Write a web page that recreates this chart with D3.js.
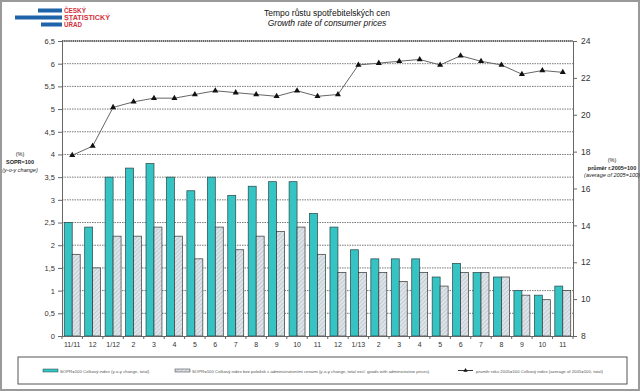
<!DOCTYPE html>
<html>
<head>
<meta charset="utf-8">
<script src="https://cdn.jsdelivr.net/npm/d3@7"></script>
<style>
  body { margin: 0; background: #fff; }
  svg { display: block; font-family: "Liberation Sans", Arial, sans-serif; }
</style>
</head>
<body>
<svg id="chart" width="640" height="391"></svg>
<script>
let width = 640;
let height = 391;

// months Nov 2011 - Nov 2013
let categories = ["11/11", "12", "1/12", "2", "3", "4", "5", "6", "7", "8", "9", "10", "11", "12",
    "1/13", "2", "3", "4", "5", "6", "7", "8", "9", "10", "11"];
// y-o-y change, total (left axis)
let totalYoY = [2.5, 2.4, 3.5, 3.7, 3.8, 3.5, 3.2, 3.5, 3.1, 3.3, 3.4, 3.4, 2.7, 2.4,
    1.9, 1.7, 1.7, 1.7, 1.3, 1.6, 1.4, 1.3, 1.0, 0.9, 1.1];
// y-o-y change, total excl. goods with administrative prices (left axis)
let exclAdminYoY = [1.8, 1.5, 2.2, 2.2, 2.4, 2.2, 1.7, 2.4, 1.9, 2.2, 2.3, 2.4, 1.8, 1.4,
    1.4, 1.4, 1.2, 1.4, 1.1, 1.4, 1.4, 1.3, 0.9, 0.8, 1.0];
// average of 2005=100 (right axis)
let avg2005 = [17.8, 18.3, 20.4, 20.7, 20.9, 20.9, 21.1, 21.3, 21.2, 21.1, 21.0, 21.3, 21.0, 21.1,
    22.7, 22.8, 22.9, 23.0, 22.7, 23.2, 22.9, 22.7, 22.2, 22.4, 22.3];
let leftTicks = [0, 0.5, 1, 1.5, 2, 2.5, 3, 3.5, 4, 4.5, 5, 5.5, 6, 6.5];
let rightTicks = [8, 10, 12, 14, 16, 18, 20, 22, 24];

let legendLabels = [
    "SOPR=100 Celkový index (y-o-y change, total)",
    "SOPR=100 Celkový index bez položek s administrativními cenami (y-o-y change, total excl. goods with administrative prices)",
    "průměr roku 2005=100 Celkový index (average of 2005=100, total)"
];

let plotLeft = 62, plotRight = 573, plotTop = 41, plotBottom = 336;
let tealColor = "#35c3c3";

let svg = d3.select("#chart");
let fmt = v => String(v).replace(".", ",");

// hatch pattern for the second bar series
let defs = svg.append("defs");
let pat = defs.append("pattern")
    .attr("id", "hatch")
    .attr("patternUnits", "userSpaceOnUse")
    .attr("width", 3).attr("height", 3)
    .attr("patternTransform", "rotate(45)");
pat.append("rect").attr("width", 3).attr("height", 3).attr("fill", "#dde4ea");
pat.append("line").attr("x1", 0).attr("y1", 0).attr("x2", 0).attr("y2", 3)
    .attr("stroke", "#9aa6b0").attr("stroke-width", 0.8);

// outer frame
svg.append("rect")
    .attr("x", 1).attr("y", 1).attr("width", width - 2).attr("height", height - 2)
    .attr("fill", "white").attr("stroke", "#9a9a9a").attr("stroke-width", 2);

// logo
let logo = svg.append("g");
[[38, 8.5, 24], [15, 15.5, 47], [41, 22.5, 21]].forEach(function (b) {
    logo.append("rect").attr("x", b[0]).attr("y", b[1]).attr("width", b[2]).attr("height", 4)
        .attr("fill", "#1f63a8");
});
["ČESKÝ", "STATISTICKÝ", "ÚŘAD"].forEach(function (t, i) {
    logo.append("text").attr("x", 64).attr("y", 12.6 + i * 7.2)
        .attr("font-size", 6.3).attr("font-weight", "bold").attr("fill", "#d3303c")
        .attr("textLength", [22, 46, 18][i]).attr("lengthAdjust", "spacingAndGlyphs")
        .text(t);
});

// title
svg.append("text").attr("x", 327).attr("y", 16).attr("text-anchor", "middle")
    .attr("font-size", 8.5).attr("fill", "#111")
    .text("Tempo růstu spotřebitelských  cen");
svg.append("text").attr("x", 327).attr("y", 26).attr("text-anchor", "middle")
    .attr("font-size", 8.5).attr("font-style", "italic").attr("fill", "#111")
    .text("Growth rate  of consumer prices");

// scales
let x = d3.scaleBand()
    .domain(d3.range(categories.length))
    .range([plotLeft, plotRight])
    .paddingInner(0).paddingOuter(0);
let yLeft = d3.scaleLinear().domain([0, 6.5]).range([plotBottom, plotTop]);
let yRight = d3.scaleLinear().domain([8, 24]).range([plotBottom, plotTop]);

// gridlines
svg.append("g")
    .selectAll("line")
    .data(leftTicks.filter(d => d > 0 && d < 6.5))
    .enter().append("line")
    .attr("x1", plotLeft).attr("x2", plotRight)
    .attr("y1", d => yLeft(d)).attr("y2", d => yLeft(d))
    .attr("stroke", "#555").attr("stroke-width", 0.8)
    .attr("stroke-dasharray", "1.5,1");
svg.append("line")
    .attr("x1", plotLeft).attr("x2", plotRight)
    .attr("y1", yLeft(6.5)).attr("y2", yLeft(6.5))
    .attr("stroke", "#333").attr("stroke-width", 1.4)
    .attr("stroke-dasharray", "1.5,0.6");

// bars
let barW = x.bandwidth() * 0.39;
svg.append("g")
    .selectAll("rect")
    .data(totalYoY)
    .enter().append("rect")
    .attr("x", (d, i) => x(i) + x.bandwidth() / 2 - barW)
    .attr("y", d => yLeft(d))
    .attr("width", barW)
    .attr("height", d => yLeft(0) - yLeft(d))
    .attr("fill", tealColor)
    .attr("stroke", "#2b4444").attr("stroke-width", 0.7);
svg.append("g")
    .selectAll("rect")
    .data(exclAdminYoY)
    .enter().append("rect")
    .attr("x", (d, i) => x(i) + x.bandwidth() / 2)
    .attr("y", d => yLeft(d))
    .attr("width", barW)
    .attr("height", d => yLeft(0) - yLeft(d))
    .attr("fill", "url(#hatch)")
    .attr("stroke", "#333").attr("stroke-width", 0.7);

// line series on right axis
let line = d3.line()
    .x((d, i) => x(i) + x.bandwidth() / 2)
    .y(d => yRight(d));
svg.append("path")
    .datum(avg2005)
    .attr("d", line)
    .attr("fill", "none")
    .attr("stroke", "#666").attr("stroke-width", 1);
let tri = d3.symbol().type(d3.symbolTriangle).size(16);
svg.append("g")
    .selectAll("path")
    .data(avg2005)
    .enter().append("path")
    .attr("d", tri)
    .attr("transform", (d, i) => "translate(" + (x(i) + x.bandwidth() / 2) + "," + yRight(d) + ")")
    .attr("fill", "#111");

// axes
let leftAxis = svg.append("g")
    .attr("transform", "translate(" + plotLeft + ",0)")
    .call(d3.axisLeft(yLeft).tickValues(leftTicks).tickFormat(fmt).tickSize(4).tickPadding(3));
let rightAxis = svg.append("g")
    .attr("transform", "translate(" + plotRight + ",0)")
    .call(d3.axisRight(yRight).tickValues(rightTicks).tickSize(4).tickPadding(4));
let bottomAxis = svg.append("g")
    .attr("transform", "translate(0," + plotBottom + ")")
    .call(d3.axisBottom(x).tickFormat(i => categories[i]).tickSize(0).tickPadding(6));

[leftAxis, rightAxis, bottomAxis].forEach(function (a) {
    a.select(".domain").attr("stroke", "#666").attr("stroke-width", 1);
    a.selectAll(".tick line").attr("stroke", "#666");
    a.selectAll("text").attr("fill", "#333").attr("font-family", "Liberation Sans, Arial, sans-serif");
});
leftAxis.selectAll("text").attr("font-size", 7.5);
rightAxis.selectAll("text").attr("font-size", 8.5);
bottomAxis.selectAll("text").attr("font-size", 7);

// small ticks between categories on x axis
svg.append("g")
    .selectAll("line")
    .data(d3.range(categories.length + 1))
    .enter().append("line")
    .attr("x1", i => plotLeft + i * x.step()).attr("x2", i => plotLeft + i * x.step())
    .attr("y1", plotBottom).attr("y2", plotBottom + 3)
    .attr("stroke", "#666");

// axis titles
let lt = svg.append("g").attr("font-size", 5.5).attr("fill", "#222").attr("text-anchor", "middle");
lt.append("text").attr("x", 20).attr("y", 156).text("(%)");
lt.append("text").attr("x", 20).attr("y", 164).attr("font-weight", "bold").text("SOPR=100");
lt.append("text").attr("x", 20).attr("y", 172).attr("font-style", "italic").text("(y-o-y change)");
let rt = svg.append("g").attr("font-size", 5.5).attr("fill", "#222").attr("text-anchor", "middle");
rt.append("text").attr("x", 612).attr("y", 162).text("(%)");
rt.append("text").attr("x", 612).attr("y", 169.5).attr("font-weight", "bold").text("průměr r.2005=100");
rt.append("text").attr("x", 612).attr("y", 177).attr("font-style", "italic").text("(average of 2005=100)");

// legend
let lg = svg.append("g");
lg.append("rect").attr("x", 18).attr("y", 357).attr("width", 609).attr("height", 27)
    .attr("fill", "white").attr("stroke", "#555").attr("stroke-width", 1);
lg.append("rect").attr("x", 43).attr("y", 369).attr("width", 15).attr("height", 3)
    .attr("fill", tealColor).attr("stroke", "#2b4444").attr("stroke-width", 0.5);
lg.append("text").attr("x", 60).attr("y", 372.5).attr("font-size", 4.3).attr("fill", "#555")
    .text(legendLabels[0]);
lg.append("rect").attr("x", 175).attr("y", 369).attr("width", 15).attr("height", 3)
    .attr("fill", "url(#hatch)").attr("stroke", "#333").attr("stroke-width", 0.5);
lg.append("text").attr("x", 192).attr("y", 372.5).attr("font-size", 4.3).attr("fill", "#555")
    .text(legendLabels[1]);
lg.append("line").attr("x1", 458).attr("x2", 473).attr("y1", 370.5).attr("y2", 370.5)
    .attr("stroke", "#333").attr("stroke-width", 1);
lg.append("path").attr("d", d3.symbol().type(d3.symbolTriangle).size(8))
    .attr("transform", "translate(465.5,370.5)").attr("fill", "#111");
lg.append("text").attr("x", 476).attr("y", 372.5).attr("font-size", 4.3).attr("fill", "#555")
    .text(legendLabels[2]);
</script>
</body>
</html>
